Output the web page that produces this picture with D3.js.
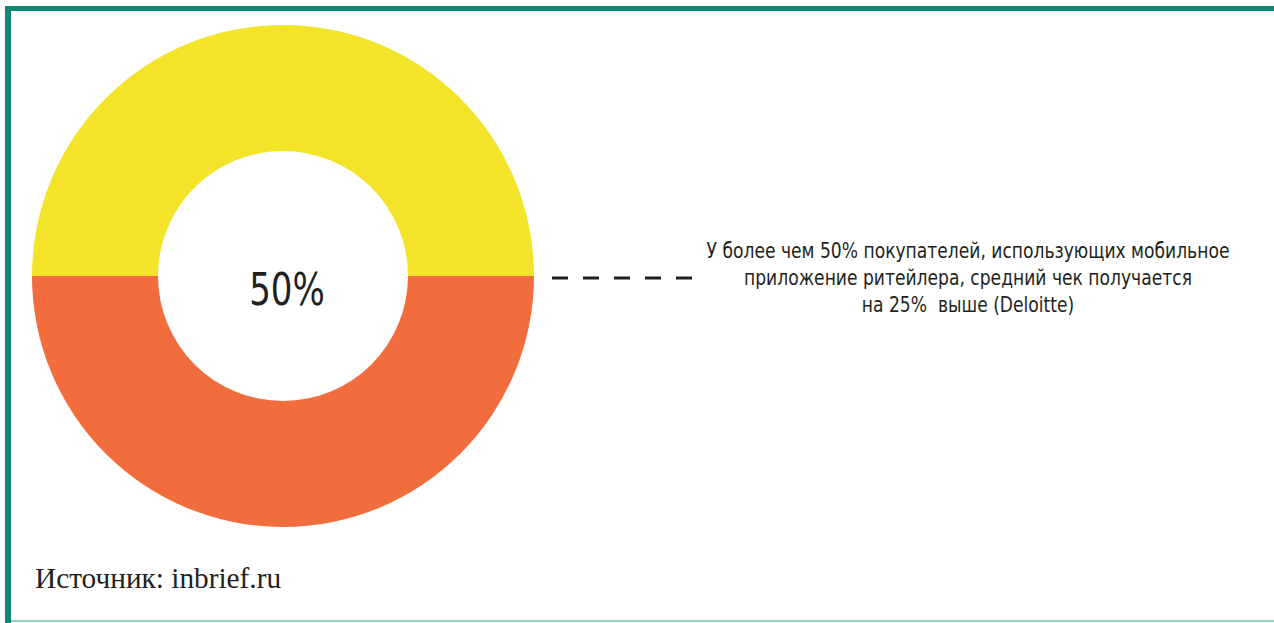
<!DOCTYPE html>
<html>
<head>
<meta charset="utf-8">
<script src="https://cdn.jsdelivr.net/npm/d3@7"></script>
<style>
  html, body { margin: 0; padding: 0; background: #fff; }
</style>
</head>
<body>
<div id="chart"></div>
<script>
var shares = [50, 50];
var shareNames = ["yes", "no"];
var centerLabel = "50%";
var noteLines = [
    "У более чем 50% покупателей, использующих мобильное",
    "приложение ритейлера, средний чек получается",
    "на 25%  выше (Deloitte)"
];
var sourceLabel = "Источник: inbrief.ru";

function donutChart() {
    const xSize = 1274; const ySize = 623;
    const cx = 283; const cy = 276;
    const outerR = 251; const innerR = 125;
    const narrow = "'DejaVu Sans Condensed', 'Liberation Sans Narrow', sans-serif";

    const svg = d3.select("#chart")
        .append("svg")
        .attr("width", xSize)
        .attr("height", ySize);

    // frame: top + left thick green, thin light line at bottom
    svg.append("rect").attr("x", 5).attr("y", 6).attr("width", xSize - 5).attr("height", 5).attr("fill", "#0a8a72");
    svg.append("rect").attr("x", 5).attr("y", 6).attr("width", 6).attr("height", ySize - 6).attr("fill", "#0a8a72");
    svg.append("rect").attr("x", 11).attr("y", 620).attr("width", xSize - 11).attr("height", 2).attr("fill", "#8fd3c2");

    var color = d3.scaleOrdinal()
        .domain(shareNames)
        .range(["#f4e429", "#f26d3d"]);

    var pie = d3.pie()
        .sort(null)
        .startAngle(-Math.PI / 2)
        .endAngle(Math.PI * 1.5);

    var arc = d3.arc()
        .innerRadius(innerR)
        .outerRadius(outerR);

    var g = svg.append("g")
        .attr("transform", "translate(" + cx + "," + cy + ")");

    g.selectAll("path")
        .data(pie(shares))
        .enter()
        .append("path")
        .attr("fill", function (d, i) { return color(shareNames[i]); })
        .attr("d", arc);

    // condensed look: squeeze horizontally
    g.append("text")
        .attr("transform", "translate(4,29) scale(0.86,1)")
        .attr("text-anchor", "middle")
        .attr("font-family", narrow)
        .attr("font-size", 44)
        .attr("fill", "#231f20")
        .text(centerLabel);

    // dashed leader
    svg.append("line")
        .attr("x1", 552).attr("x2", 692)
        .attr("y1", 278).attr("y2", 278)
        .attr("stroke", "#231f20")
        .attr("stroke-width", 3)
        .attr("stroke-dasharray", "16,15");

    var note = svg.append("text")
        .attr("transform", "translate(968,0) scale(0.866,1)")
        .attr("text-anchor", "middle")
        .attr("font-family", narrow)
        .attr("font-size", 22)
        .attr("fill", "#231f20");
    noteLines.forEach(function (t, i) {
        note.append("tspan")
            .attr("x", 0)
            .attr("y", 258 + i * 27)
            .attr("xml:space", "preserve")
            .style("white-space", "pre")
            .text(t);
    });

    svg.append("text")
        .attr("x", 35)
        .attr("y", 588)
        .attr("font-family", "'Liberation Serif', serif")
        .attr("font-size", 29.3)
        .attr("fill", "#231f20")
        .text(sourceLabel);
}

window.addEventListener('load', function () {
    donutChart();
});
</script>
</body>
</html>
